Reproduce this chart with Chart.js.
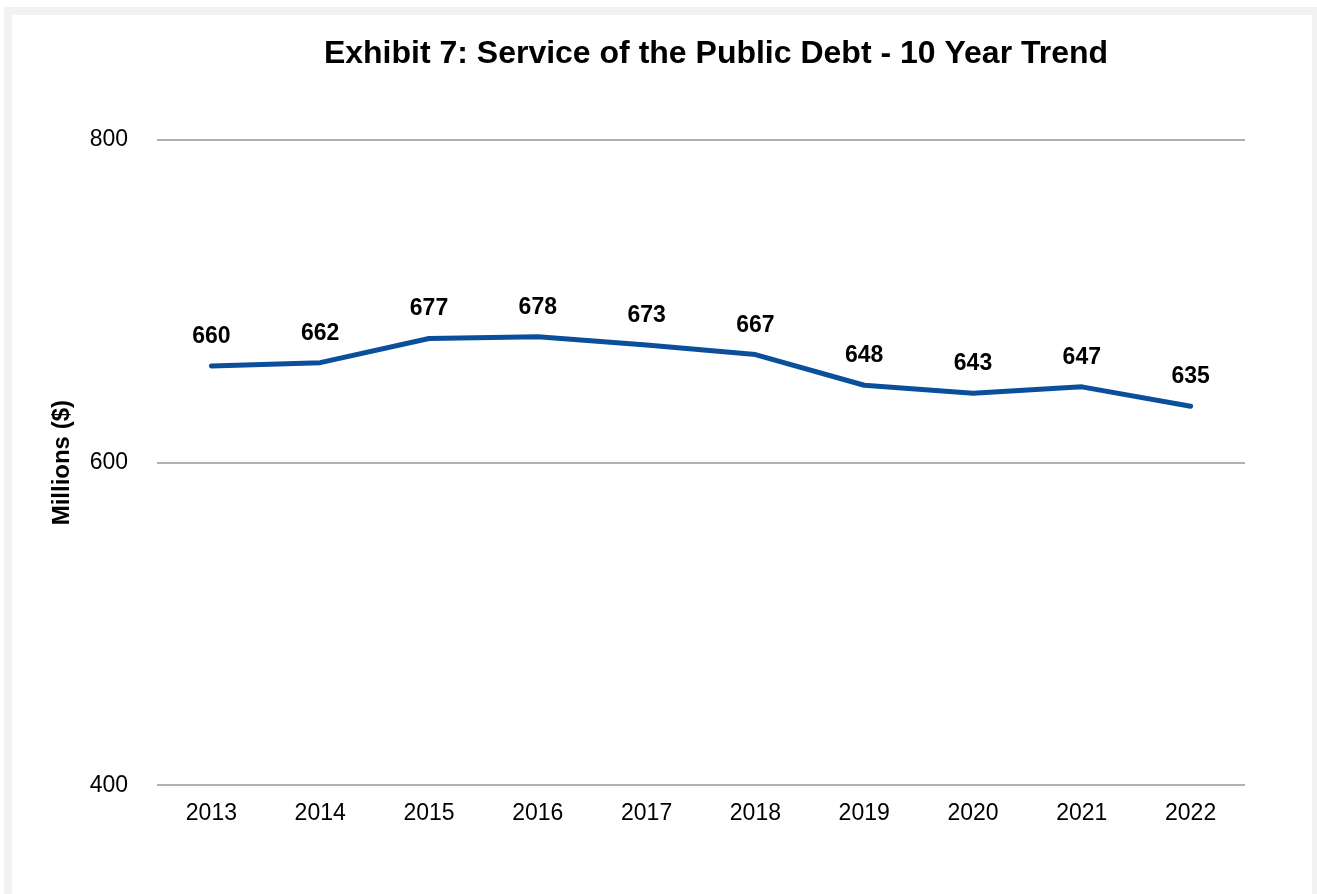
<!DOCTYPE html>
<html>
<head>
<meta charset="utf-8">
<title>Service of the Public Debt</title>
<script src="https://cdn.jsdelivr.net/npm/chart.js@4/dist/chart.umd.min.js"></script>
<style>
  html, body { margin: 0; padding: 0; background: #fff; }
  body { width: 1317px; height: 894px; position: relative; overflow: hidden; }
  .frame { position: absolute; left: 4px; top: 7px; right: 0; bottom: 0; background: #f2f2f2; }
  .panel { position: absolute; left: 8px; top: 8px; right: 5px; bottom: 0; background: #fff; }
  #wrap { position: absolute; left: 0; top: 0; width: 1317px; height: 894px; }
</style>
</head>
<body>
<div class="frame"><div class="panel"></div></div>
<div id="wrap"><canvas id="debtChart"></canvas></div>
<script>
const years = ["2013", "2014", "2015", "2016", "2017", "2018", "2019", "2020", "2021", "2022"];
const debtService = [660, 662, 677, 678, 673, 667, 648, 643, 647, 635];
const yTicks = [400, 600, 800];
const chartTitle = "Exhibit 7: Service of the Public Debt - 10 Year Trend";

const FONT = "'Liberation Sans', Arial, sans-serif";

// title and value labels drawn straight onto the canvas
const overlay = {
    id: 'overlay',
    afterDatasetsDraw(chart) {
        const c = chart.ctx;
        c.save();
        c.fillStyle = '#000';
        c.textAlign = 'center';
        c.textBaseline = 'middle';
        c.font = "bold 32px " + FONT;
        c.fillText(chartTitle, 716, 54);

        c.font = "bold 23px " + FONT;
        c.textBaseline = 'alphabetic';
        const meta = chart.getDatasetMeta(0);
        meta.data.forEach((pt, i) => {
            c.fillText(String(debtService[i]), pt.x, pt.y - 23);
        });
        c.restore();
    }
};

const ctx = document.getElementById('debtChart').getContext('2d');
const chart = new Chart(ctx, {
    type: 'line',
    data: {
        labels: years,
        datasets: [{
            label: 'Service of the Public Debt',
            data: debtService,
            borderColor: '#0b4f9c',
            borderWidth: 5,
            borderCapStyle: 'round',
            borderJoinStyle: 'round',
            pointRadius: 0,
            tension: 0,
            fill: false
        }]
    },
    options: {
        responsive: true,
        maintainAspectRatio: false,
        animation: false,
        layout: {
            padding: { left: 48, right: 72, top: 140, bottom: 53 }
        },
        plugins: {
            legend: { display: false },
            title: { display: false },
            tooltip: { enabled: false }
        },
        scales: {
            x: {
                offset: true,
                grid: { display: false, drawTicks: false },
                border: { display: false },
                ticks: {
                    padding: 14,
                    color: '#000',
                    font: { family: FONT, size: 23 }
                }
            },
            y: {
                min: 400,
                max: 800,
                afterBuildTicks(scale) {
                    scale.ticks = yTicks.map(v => ({ value: v }));
                },
                afterFit(scale) {
                    scale.width = 109;
                },
                grid: { color: '#b0b0b0', lineWidth: 2, drawTicks: false },
                border: { display: false },
                ticks: {
                    padding: 29,
                    color: '#000',
                    font: { family: FONT, size: 23 }
                },
                title: {
                    display: true,
                    text: 'Millions ($)',
                    color: '#000',
                    padding: { top: 0, bottom: 0 },
                    font: { family: FONT, size: 24, weight: 'bold' }
                }
            }
        }
    },
    plugins: [overlay]
});
</script>
</body>
</html>
